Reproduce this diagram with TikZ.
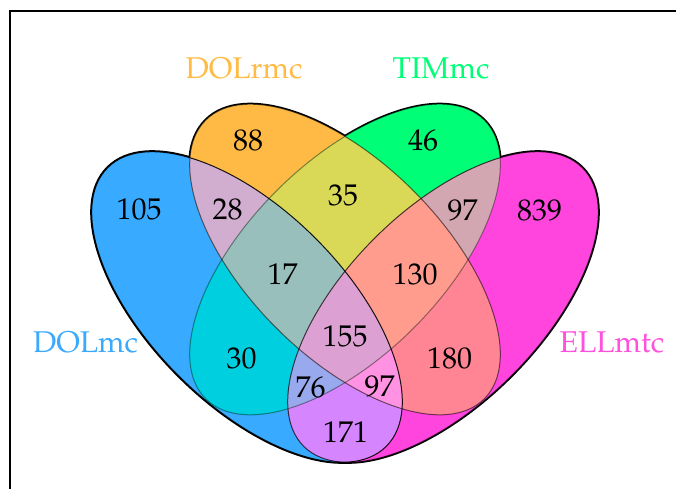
\documentclass[tikz,border=0pt]{standalone}
\usepackage[T1]{fontenc}
\renewcommand\rmdefault{ppl}

% fill colours of the fifteen regions
\definecolor{cA}{HTML}{38AAFF}
\definecolor{cB}{HTML}{FFBA45}
\definecolor{cC}{HTML}{00FF76}
\definecolor{cD}{HTML}{FF45DE}
\definecolor{cAB}{HTML}{D1ADD0}
\definecolor{cAC}{HTML}{00CFE0}
\definecolor{cAD}{HTML}{D586FF}
\definecolor{cBC}{HTML}{D9D957}
\definecolor{cBD}{HTML}{FF8494}
\definecolor{cCD}{HTML}{D2A7B2}
\definecolor{cABC}{HTML}{98BFBC}
\definecolor{cABD}{HTML}{FF92E3}
\definecolor{cACD}{HTML}{98A9EE}
\definecolor{cBCD}{HTML}{FF9C8E}
\definecolor{cABCD}{HTML}{DCA1D2}
\definecolor{labA}{HTML}{3AAAFF}
\definecolor{labB}{HTML}{FFBB44}
\definecolor{labC}{HTML}{00FF77}
\definecolor{labD}{HTML}{FF50DE}

\tikzset{
  ellA/.style={rotate around={-45:(247,307)}},
  ellB/.style={rotate around={-45:(345,259.5)}},
  ellC/.style={rotate around={45:(345,259.5)}},
  ellD/.style={rotate around={45:(443,307)}},
  count/.style={font=\fontsize{30}{36}\selectfont, inner sep=0pt, text=black},
  setname/.style={font=\fontsize{30}{36}\selectfont, inner sep=0pt},
}

% the four ellipses as clipping paths
\newcommand\clipA{\clip[ellA] (247,307) ellipse [x radius=197, y radius=97];}
\newcommand\clipB{\clip[ellB] (345,259.5) ellipse [x radius=197, y radius=97];}
\newcommand\clipC{\clip[ellC] (345,259.5) ellipse [x radius=197, y radius=97];}
\newcommand\clipD{\clip[ellD] (443,307) ellipse [x radius=197, y radius=97];}
% outlines of the four ellipses
\newcommand\outlines[1]{%
  \draw[ellA, #1] (247,307) ellipse [x radius=197, y radius=97];
  \draw[ellB, #1] (345,259.5) ellipse [x radius=197, y radius=97];
  \draw[ellC, #1] (345,259.5) ellipse [x radius=197, y radius=97];
  \draw[ellD, #1] (443,307) ellipse [x radius=197, y radius=97];}
\newcommand\regionfill[2]{\begin{scope}#1\fill[#2] (0,0) rectangle (676,488);\end{scope}}

\begin{document}
\begin{tikzpicture}[x=1pt,y=-1pt]
\useasboundingbox (0,0) rectangle (676,488);
\clip (0,0) rectangle (676,488);

% frame
\draw[line width=2pt] (9.5,11) rectangle (720,540);

% thick outlines; the fills below cover their inner half
\outlines{black, line width=3pt}

% regions, painted from single sets up to the common part
\regionfill{\clipA}{cA}
\regionfill{\clipB}{cB}
\regionfill{\clipC}{cC}
\regionfill{\clipD}{cD}
\regionfill{\clipA\clipB}{cAB}
\regionfill{\clipA\clipC}{cAC}
\regionfill{\clipA\clipD}{cAD}
\regionfill{\clipB\clipC}{cBC}
\regionfill{\clipB\clipD}{cBD}
\regionfill{\clipC\clipD}{cCD}
\regionfill{\clipA\clipB\clipC}{cABC}
\regionfill{\clipA\clipB\clipD}{cABD}
\regionfill{\clipA\clipC\clipD}{cACD}
\regionfill{\clipB\clipC\clipD}{cBCD}
\regionfill{\clipA\clipB\clipC\clipD}{cABCD}

% inner outlines, darker for the ellipses painted later
\draw[ellC, black, opacity=0.4, line width=1pt] (345,259.5) ellipse [x radius=197, y radius=97];
\draw[ellB, black, opacity=0.55, line width=1pt] (345,259.5) ellipse [x radius=197, y radius=97];
\draw[ellD, black, opacity=0.7, line width=1pt] (443,307) ellipse [x radius=197, y radius=97];
\draw[ellA, black, opacity=0.9, line width=1pt] (247,307) ellipse [x radius=197, y radius=97];

% set names
\node[setname, text=labB] (nB) at (244,68.5) {DOLrmc};
\node[setname, text=labC] (nC) at (441,68.5) {TIMmc};
\node[setname, text=labA] (nA) at (85.5,342.5) {DOLmc};
\node[setname, text=labD] (nD) at (612,342.5) {ELLmtc};

% counts
\node[count] (rA) at (139,209.5) {105};
\node[count] (rB) at (248,140.5) {88};
\node[count] (rC) at (423,140.5) {46};
\node[count] (rD) at (539.5,210.5) {839};
\node[count] (rAB) at (227.5,209.5) {28};
\node[count] (rBC) at (343,195) {35};
\node[count] (rCD) at (462.5,210.5) {97};
\node[count] (rABC) at (282.5,274) {17};
\node[count] (rBCD) at (415,274) {130};
\node[count] (rABCD) at (345,336) {155};
\node[count] (rAC) at (241.5,358.5) {30};
\node[count] (rBD) at (449.5,358.5) {180};
\node[count] (rACD) at (310.5,387.5) {76};
\node[count] (rABD) at (379.5,386) {97};
\node[count] (rAD) at (345.5,432.5) {171};
\end{tikzpicture}
\end{document}
